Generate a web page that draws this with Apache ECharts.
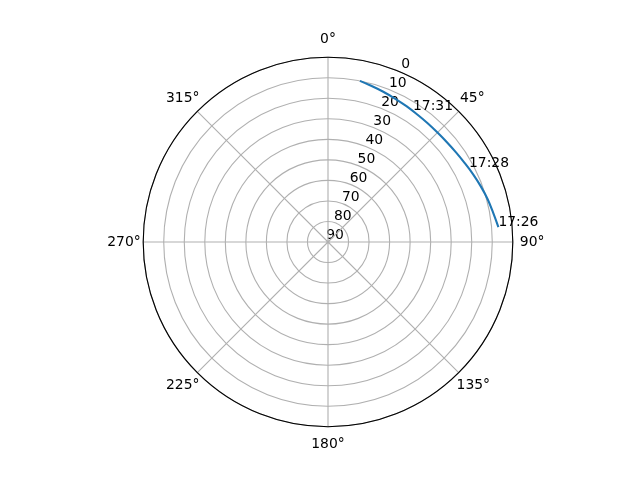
<!DOCTYPE html>
<html><head><meta charset="utf-8">
<script src="https://cdn.jsdelivr.net/npm/echarts@6/dist/echarts.min.js"></script>
<style>html,body{margin:0;padding:0;background:#fff}#c{width:640px;height:480px}</style>
</head><body><div id="c"></div>
<script>
// Satellite track: azimuth (deg, clockwise from north) and elevation (deg)
const trackAz = [85.0, 80.0, 75.0, 70.0, 65.0, 60.0, 55.0, 50.0, 45.0, 40.0, 35.0, 30.0, 25.0, 20.0, 15.0, 11.2];
const trackEl = [6.7, 8.3, 9.5, 10.8, 12.0, 13.1, 13.9, 14.4, 14.6, 14.5, 14.2, 13.6, 12.9, 12.0, 11.0, 10.0];
// Time annotations
const timeLabels = ['17:26', '17:28', '17:31'];
const labelAz = [85.0, 62.5, 33.0];
const labelEl = [6.7, 12.6, 14.0];

const FONT = 'DejaVu Sans';
const FS = 13.9;
const C = [328, 242];
const R = 184.8;

// per-direction padding for the angle labels (to centre them on a ring like the reference)
const angPad = {
  0: [0, 0, 14, 0], 45: [0, 0, 7.7, 3.4], 90: [0, 0, 0, 10], 135: [7.7, 0, 0, 0],
  180: [13.7, 0, 0, 0], 225: [7.7, 0, 0, 0], 270: [0, 5.5, 0, 0], 315: [0, 0, 7.7, 0]
};
const rich = {};
Object.keys(angPad).forEach(k => {
  rich['a' + k] = {padding: angPad[k], color: '#000', fontFamily: FONT, fontSize: FS};
});

const chart = echarts.init(document.getElementById('c'), null, {renderer: 'canvas'});
chart.setOption({
  animation: false,
  backgroundColor: '#fff',
  polar: [
    {center: C, radius: R},
    {center: [C[0] + 7, C[1] - 7], radius: R}
  ],
  angleAxis: [
    {
      polarIndex: 0, type: 'value', min: 0, max: 360, interval: 45,
      startAngle: 90, clockwise: true,
      axisLine: {show: true, lineStyle: {color: '#000', width: 1.1}},
      axisTick: {show: false},
      axisLabel: {show: true, margin: -3,
        color: '#000', fontFamily: FONT, fontSize: FS,
        formatter: v => '{a' + (v % 360) + '|' + v + '°}', rich: rich},
      splitLine: {show: true, lineStyle: {color: '#b0b0b0', width: 1.1}},
      z: 1
    },
    {
      polarIndex: 1, type: 'value', min: 0, max: 360, startAngle: 67.5, clockwise: true,
      show: false
    }
  ],
  radiusAxis: [
    {
      polarIndex: 0, type: 'value', min: 0, max: 90, interval: 10, inverse: true,
      axisLine: {show: false}, axisTick: {show: false}, axisLabel: {show: false},
      splitLine: {show: true, lineStyle: {color: '#b0b0b0', width: 1.1}},
      z: 0
    },
    {
      polarIndex: 1, type: 'value', min: 0, max: 90, interval: 10, inverse: true,
      axisLine: {show: false}, axisTick: {show: false}, splitLine: {show: false},
      axisLabel: {show: true, margin: 0, rotate: 0, align: 'center', verticalAlign: 'middle',
        color: '#000', fontFamily: FONT, fontSize: FS}
    }
  ],
  series: [
    {
      type: 'line', coordinateSystem: 'polar', polarIndex: 0,
      data: trackAz.map((a, i) => [trackEl[i], a]),
      showSymbol: false, smooth: 0.4,
      lineStyle: {color: '#1f77b4', width: 2.1},
      z: 3
    },
    {
      type: 'scatter', coordinateSystem: 'polar', polarIndex: 0,
      symbolSize: 0, itemStyle: {opacity: 1},
      data: timeLabels.map((t, i) => ({name: t, value: [labelEl[i], labelAz[i]]})),
      label: {show: true, position: [0, 0], align: 'left', verticalAlign: 'middle',
        offset: [0, -5], formatter: p => p.name, opacity: 1,
        color: '#000', fontFamily: FONT, fontSize: FS},
      z: 4
    }
  ]
});
</script>
</body></html>
